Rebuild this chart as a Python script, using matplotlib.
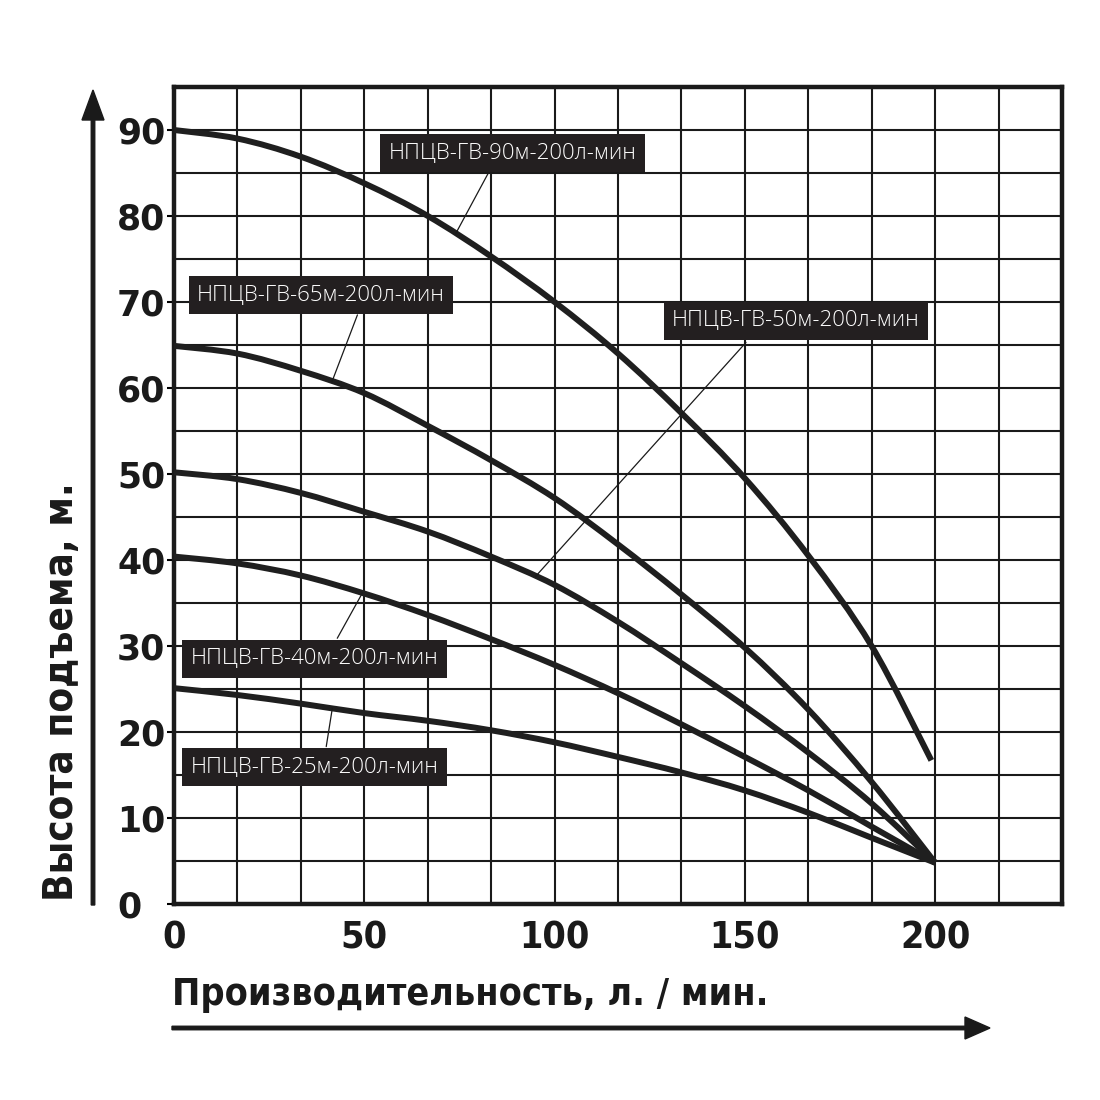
import matplotlib
matplotlib.use("Agg")
import matplotlib.pyplot as plt
from matplotlib.ticker import MultipleLocator, FixedLocator
from matplotlib.path import Path
from matplotlib.patches import PathPatch, FancyArrow
from matplotlib import font_manager as fm
import numpy as np

# ---- data ----
flow = [0, 16.7, 33.3, 50, 66.7, 83.3, 100, 116.7, 133.3, 150, 166.7, 183.3, 200]
flow_90 = [0, 16.7, 33.3, 50, 66.7, 83.3, 100, 116.7, 133.3, 150, 166.7, 183.3, 199]
head_90 = [90, 89.0, 86.9, 83.8, 80.0, 75.3, 70.0, 64.0, 57.1, 49.5, 40.5, 30.0, 16.7]
head_65 = [64.9, 64.0, 62.0, 59.4, 55.6, 51.6, 47.2, 41.8, 36.0, 29.8, 22.6, 14.2, 4.8]
head_50 = [50.2, 49.4, 47.8, 45.6, 43.3, 40.4, 37.1, 32.8, 28.0, 23.0, 17.6, 11.7, 4.8]
head_40 = [40.4, 39.6, 38.2, 36.1, 33.6, 30.8, 27.8, 24.5, 20.9, 17.1, 13.2, 9.0, 4.8]
head_25 = [25.1, 24.3, 23.3, 22.2, 21.3, 20.2, 18.8, 17.1, 15.3, 13.2, 10.6, 7.7, 4.8]

labels = ["НПЦВ-ГВ-90м-200л-мин", "НПЦВ-ГВ-65м-200л-мин", "НПЦВ-ГВ-50м-200л-мин",
          "НПЦВ-ГВ-40м-200л-мин", "НПЦВ-ГВ-25м-200л-мин"]
x_ticks = [0, 50, 100, 150, 200]
y_ticks = [0, 10, 20, 30, 40, 50, 60, 70, 80, 90]
x_label = "Производительность, л. / мин."
y_label = "Высота подъема, м."

# ---- fonts ----
names = {f.name for f in fm.fontManager.ttflist}
narrow = "Liberation Sans Narrow" if "Liberation Sans Narrow" in names else "DejaVu Sans"
narrow_kw = {} if narrow != "DejaVu Sans" else {"fontstretch": "condensed"}
plt.rcParams["font.family"] = ["DejaVu Sans"]

fig = plt.figure(figsize=(11, 11), dpi=100)
ax = fig.add_axes([174 / 1100, 1 - 904 / 1100, (1062 - 174) / 1100, (904 - 87) / 1100])

ax.set_xlim(0, 700 / 3)
ax.set_ylim(0, 95)
ax.xaxis.set_minor_locator(MultipleLocator(50 / 3))
ax.yaxis.set_minor_locator(MultipleLocator(5))
ax.xaxis.set_major_locator(FixedLocator(x_ticks))
ax.yaxis.set_major_locator(FixedLocator(y_ticks))
ax.grid(True, which="both", color="#1a1a1a", linewidth=1.5)
ax.set_axisbelow(True)
for s in ax.spines.values():
    s.set_linewidth(3.2)
    s.set_color("#1a1a1a")
ax.tick_params(axis="both", which="both", length=0)
ax.tick_params(axis="y", which="major", length=5, width=1.5, direction="out")

ax.set_xticklabels([str(v) for v in x_ticks], fontfamily=narrow, fontweight="bold",
                   fontsize=27, color="#1a1a1a", **narrow_kw)
ax.tick_params(axis="x", pad=12)
ax.set_yticklabels([str(v) for v in y_ticks], fontfamily="DejaVu Sans", fontweight="heavy",
                   fontsize=25, color="#1a1a1a", ha="left")
ax.tick_params(axis="y", pad=36)


def smooth_path(xs, ys):
    p = np.column_stack([xs, ys]).astype(float)
    ext = np.vstack([p[0], p, p[-1]])
    verts = [tuple(p[0])]
    codes = [Path.MOVETO]
    for i in range(len(p) - 1):
        p0, p1, p2, p3 = ext[i], ext[i + 1], ext[i + 2], ext[i + 3]
        c1 = p1 + (p2 - p0) / 6.0
        c2 = p2 - (p3 - p1) / 6.0
        verts += [tuple(c1), tuple(c2), tuple(p2)]
        codes += [Path.CURVE4] * 3
    return Path(verts, codes)


lw = 4.3
col = "#1f1f1f"
series = [(flow_90, head_90), (flow, head_65), (flow, head_50), (flow, head_40), (flow, head_25)]
for xs, ys in series:
    ax.add_patch(PathPatch(smooth_path(xs, ys), fill=False, edgecolor=col, linewidth=lw,
                           capstyle="butt", joinstyle="round", zorder=3))

# label boxes with leader lines
box_pos = [(89, 87.3), (38.6, 70.8), (163.4, 67.8), (37, 28.5), (37, 15.9)]
leader_start = [(82.6, 85.0), (48.2, 68.5), (150.3, 65.3), (42.9, 30.9), (40.0, 18.3)]
leader_x = [74, 41.5, 95, 49.5, 41.6]
for (xs, ys), lab, bp, ls, lx in zip(series, labels, box_pos, leader_start, leader_x):
    ly = float(np.interp(lx, xs, ys))
    ax.annotate("", xy=(lx, ly), xytext=ls, textcoords="data",
                arrowprops=dict(arrowstyle="-", color="#1a1a1a", lw=0.9,
                                shrinkA=0, shrinkB=0), zorder=4)
    ax.text(bp[0], bp[1], lab, ha="center", va="center", color="white", fontsize=16,
            fontfamily="Open Sans", fontweight="light",
            bbox=dict(boxstyle="square,pad=0.38", fc="#231f20", ec="none"), zorder=5)

# axis labels
fig.text(172 / 1100, 1 - 995 / 1100, x_label, ha="left", va="center",
         fontfamily=narrow, fontweight="bold", fontsize=27, color="#1a1a1a", **narrow_kw)
fig.text(62 / 1100, 1 - 692 / 1100, y_label, ha="center", va="center", rotation=90,
         fontfamily=narrow, fontweight="bold", fontsize=29, color="#1a1a1a", **narrow_kw)

# arrows
fig.add_artist(FancyArrow(172 / 1100, 1 - 1028 / 1100, (990 - 172 - 25) / 1100, 0,
                          width=3.5 / 1100, head_width=22 / 1100,
                          head_length=25 / 1100, length_includes_head=False,
                          color="#1a1a1a", transform=fig.transFigure))
fig.add_artist(FancyArrow(93 / 1100, 1 - 905 / 1100, 0, (905 - 90 - 30) / 1100,
                          width=3.5 / 1100, head_width=22 / 1100,
                          head_length=30 / 1100, length_includes_head=False,
                          color="#1a1a1a", transform=fig.transFigure))

fig.savefig("out.png", dpi=100, facecolor="white")
